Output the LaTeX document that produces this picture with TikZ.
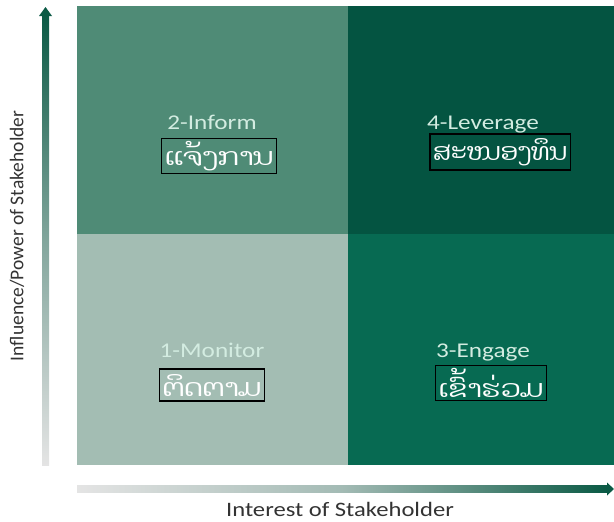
\documentclass[tikz,border=0pt]{standalone}
\usepackage{fontspec}
\setmainfont{Carlito}
\newfontfamily\laofont[Script=Lao]{Dhyana}
\usepackage{xcolor}
\usetikzlibrary{positioning,calc}

\definecolor{informgreen}{HTML}{4F8B76}
\definecolor{levergreen}{HTML}{045441}
\definecolor{monitorgreen}{HTML}{A3BDB3}
\definecolor{engagegreen}{HTML}{076A52}
\definecolor{titlemint}{HTML}{D3ECE1}
\definecolor{axisgray}{HTML}{E4E4E4}
\definecolor{axisgreen}{HTML}{0B5A45}

\newcommand{\wider}[2][1.2]{\scalebox{#1}[1]{#2}}

\begin{document}
\begin{tikzpicture}[x=1pt, y=-1pt,
  quad/.style={rectangle, anchor=north west, inner sep=0pt, draw=none, minimum width=#1},
  title/.style={text=titlemint, font=\fontsize{21}{24}\selectfont, inner sep=0pt, anchor=base},
  laobox/.style={rectangle, draw=black, line width=1.4pt, text=white, inner sep=3pt, minimum height=32pt, font=\laofont\fontsize{24}{28}\selectfont},
  axislabel/.style={text=black!80, font=\fontsize{20.5}{24}\selectfont, inner sep=0pt}
]
\useasboundingbox (0,0) rectangle (614,522);

% Quadrants
\node[quad=271pt, minimum height=228pt, fill=informgreen] (inform) at (77,6) {};
\node[quad=266pt, minimum height=228pt, fill=levergreen] (leverage) at (348,6) {};
\node[quad=271pt, minimum height=231pt, fill=monitorgreen] (monitor) at (77,234) {};
\node[quad=266pt, minimum height=231pt, fill=engagegreen] (engage) at (348,234) {};

% Titles
\node[title] (informtitle) at (212,129) {\wider{2-Inform}};
\node[title] (levertitle) at (483,129) {\wider{4-Leverage}};
\node[title] (monitortitle) at (212,357) {\wider{1-Monitor}};
\node[title] (engagetitle) at (483,357) {\wider{3-Engage}};

% Lao boxes
\node[laobox] (informlao) at (219,156) {\wider{ແຈ້ງການ}};
\node[laobox, minimum height=36pt] (leverlao) at (500,152) {\wider[1.05]{ສະໜອງທຶນ}};
\node[laobox] (monitorlao) at (212,385) {\wider{ຕິດຕາມ}};
\node[laobox] (engagelao) at (491,383) {\wider{ເຂົ້າຮ່ວມ}};

% Axes
\coordinate (ybottom) at (45.5,465);
\coordinate (ytop) at (45.5,7);
\coordinate (xleft) at (77,489);
\coordinate (xright) at (614,489);
\shade[bottom color=axisgray, top color=axisgreen, middle color=axisgray!55!axisgreen] ($(ybottom)+(-3.5,0)$) rectangle ($(ytop)+(3.5,9)$);
\fill[axisgreen] (ytop) -- ++(6.5,9) -- ++(-13,0) -- cycle;
\shade[left color=axisgray, right color=axisgreen, middle color=axisgray!70!axisgreen] ($(xleft)+(0,-3.5)$) rectangle ($(xright)+(-7,3.5)$);
\fill[axisgreen] (xright) -- ++(-7,-6.5) -- ++(0,13) -- cycle;

% Axis labels
\node[axislabel] (xlabel) at (340,509) {\wider{Interest of Stakeholder}};
\node[axislabel, rotate=90, font=\fontsize{19.5}{24}\selectfont] (ylabel) at (17,236) {Influence/Power of Stakeholder};

\end{tikzpicture}
\end{document}
